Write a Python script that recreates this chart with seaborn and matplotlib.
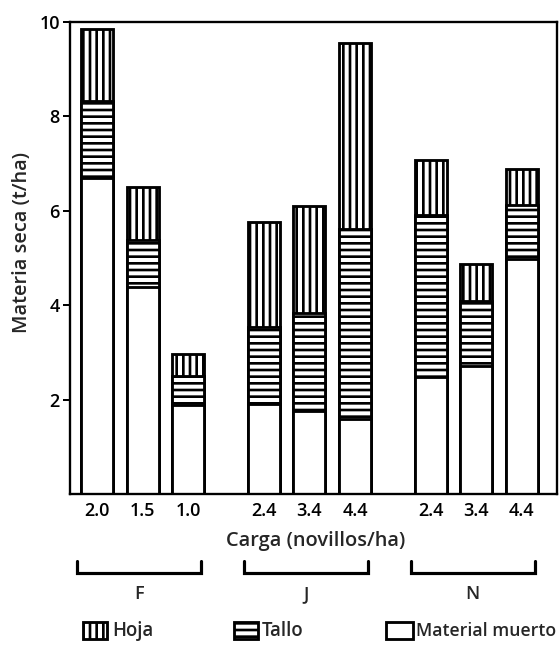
import matplotlib
matplotlib.use("Agg")
import matplotlib.pyplot as plt
import matplotlib.patches as mpatches
from matplotlib.lines import Line2D
from matplotlib.transforms import blended_transform_factory
import pandas as pd
import seaborn as sns

# Dry matter (t/ha) per component, by stocking rate and grazing system
grupos = ["F", "F", "F", "J", "J", "J", "N", "N", "N"]
carga = ["2.0", "1.5", "1.0", "2.4", "3.4", "4.4", "2.4", "3.4", "4.4"]
muerto = [6.70, 4.39, 1.89, 1.90, 1.75, 1.58, 2.47, 2.71, 4.97]
tallo = [1.62, 0.99, 0.61, 1.64, 2.09, 4.03, 3.44, 1.37, 1.16]
hoja = [1.54, 1.12, 0.46, 2.22, 2.26, 3.94, 1.17, 0.80, 0.76]
y_ticks = [2, 4, 6, 8, 10]
grupo_orden = ["F", "J", "N"]
leyenda = ["Hoja", "Tallo", "Material muerto"]

sns.set_style("ticks")
plt.rcParams["font.family"] = ["Open Sans", "DejaVu Sans"]
plt.rcParams["font.weight"] = "semibold"
plt.rcParams["axes.labelweight"] = "semibold"
plt.rcParams["hatch.linewidth"] = 1.6
plt.rcParams["hatch.color"] = "black"

DPI = 120
W, H = 560, 646
fig = plt.figure(figsize=(W / DPI, H / DPI), dpi=DPI)
fig.patch.set_facecolor("white")


def fx(px):
    return px / W


def fy(py):
    return 1 - py / H


ax = fig.add_axes([fx(70), fy(494), (557 - 70) / W, (494 - 22) / H])

# bars one unit apart, with an extra gap between grazing systems
GAP = 0.66
pos = [i + GAP * grupo_orden.index(g) for i, g in enumerate(grupos)]

df = pd.DataFrame({"pos": pos, "muerto": muerto, "tallo": tallo, "hoja": hoja})
df["hasta_tallo"] = df["muerto"] + df["tallo"]
df["total"] = df["hasta_tallo"] + df["hoja"]

# stacked bars: whole column (leaf hatch), then stem, then dead material on top
capas = [("total", "|||"), ("hasta_tallo", "---"), ("muerto", None)]
for col, hatch in capas:
    sns.barplot(
        data=df, x="pos", y=col, native_scale=True, width=0.70,
        color="white", saturation=1, edgecolor="black", linewidth=1.7,
        hatch=hatch, errorbar=None, ax=ax,
    )

ax.set_xlim(-0.592, 10.09)
ax.set_ylim(0, 10)
ax.set_yticks(y_ticks)
ax.set_yticklabels([str(t) for t in y_ticks])
ax.set_xticks(pos)
ax.set_xticklabels(carga)
ax.tick_params(axis="x", length=0, pad=5, labelsize=10.8, colors="black")
ax.tick_params(axis="y", direction="out", length=4.5, width=1.2, pad=1.5,
               labelsize=10.8, colors="black")
for s in ax.spines.values():
    s.set_visible(True)
    s.set_linewidth(1.4)
    s.set_color("black")

ax.set_xlabel("Carga (novillos/ha)", fontsize=12, fontweight="semibold")
ax.set_ylabel("Materia seca (t/ha)", fontsize=12, fontweight="semibold")
ax.xaxis.label.set_va("center")
ax.yaxis.label.set_va("center")
ax.xaxis.set_label_coords(0.504, -0.0996)
ax.yaxis.set_label_coords(-0.099, 0.532)

# group brackets under the stocking-rate axis
trans = blended_transform_factory(ax.transData, fig.transFigure)
for grp in grupo_orden:
    xs = [p for p, g in zip(pos, grupos) if g == grp]
    c = sum(xs) / len(xs) - 0.08
    x0, x1 = c - 1.36, c + 1.36
    fig.add_artist(Line2D([x0, x0, x1, x1], [fy(561), fy(573), fy(573), fy(561)],
                          transform=trans, color="black", lw=1.9,
                          solid_joinstyle="miter"))
    fig.text(c, fy(594), grp, transform=trans, ha="center", va="center",
             fontsize=10.8, fontweight="semibold")

# legend row
items = [
    (83, 24, "|||", leyenda[0], 112, 11.2),
    (234, 24, "---", leyenda[1], 262, 11.2),
    (386, 27, None, leyenda[2], 416, 10.6),
]
for x, w, hatch, txt, tx, fs in items:
    fig.add_artist(mpatches.Rectangle((fx(x), fy(639)), w / W, 17 / H,
                                      transform=fig.transFigure,
                                      facecolor="white", edgecolor="black",
                                      lw=1.7, hatch=hatch))
    fig.text(fx(tx), fy(631), txt, ha="left", va="center", fontsize=fs,
             fontweight="semibold")

fig.savefig("out.png", dpi=DPI, facecolor="white")
